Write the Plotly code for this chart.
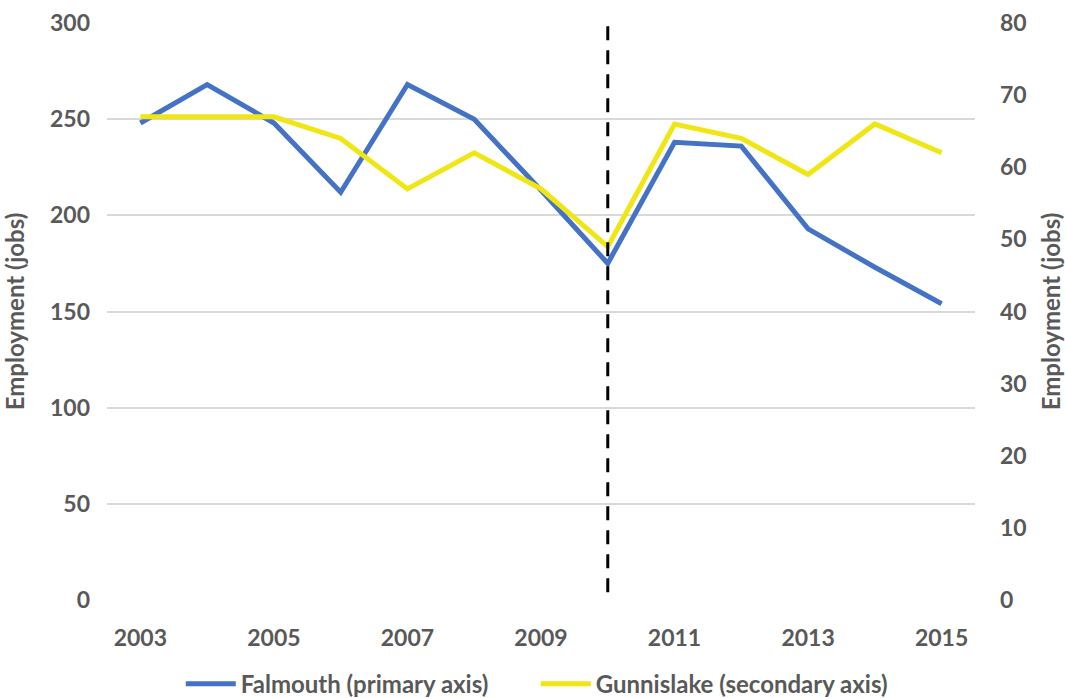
import plotly.graph_objects as go

# Annual employment figures
years = [2003, 2004, 2005, 2006, 2007, 2008, 2009, 2010, 2011, 2012, 2013, 2014, 2015]
falmouth = [248, 268, 248, 212, 268, 250, 213, 175, 238, 236, 193, 173, 154]
gunnislake = [67, 67, 67, 64, 57, 62, 57, 49, 66, 64, 59, 66, 62]
x_tick_years = [2003, 2005, 2007, 2009, 2011, 2013, 2015]
left_ticks = [0, 50, 100, 150, 200, 250, 300]
right_ticks = [0, 10, 20, 30, 40, 50, 60, 70, 80]
marker_year = 2010

FONT = "Lato"
GREY = "#595959"

fig = go.Figure()
fig.add_trace(go.Scatter(
    x=years, y=falmouth, mode="lines", name="Falmouth (primary axis)",
    line=dict(color="#4472C4", width=5), yaxis="y",
))
fig.add_trace(go.Scatter(
    x=years, y=gunnislake, mode="lines", name="Gunnislake (secondary axis)",
    line=dict(color="#F0E614", width=5), yaxis="y2",
))

# Vertical dashed marker at 2010
fig.add_shape(
    type="line", xref="x", yref="y", x0=marker_year, x1=marker_year, y0=4, y1=300,
    line=dict(color="black", width=3, dash="14px,10px"), layer="above",
)

tick_font = dict(family=FONT, size=23, color=GREY, weight="bold")
title_font = dict(family=FONT, size=24, color=GREY, weight="bold")

fig.update_layout(
    width=1065, height=698,
    margin=dict(l=107, r=90, t=23, b=98, autoexpand=False),
    paper_bgcolor="white", plot_bgcolor="white",
    showlegend=True,
    legend=dict(
        orientation="h", x=0.085, xanchor="left",
        yref="container", y=0.02, yanchor="middle",
        font=dict(family=FONT, size=24, color=GREY, weight="bold"),
        itemwidth=50, tracegroupgap=0, entrywidth=290,
    ),
    xaxis=dict(
        range=[2002.5, 2015.5], tickvals=x_tick_years,
        ticktext=[str(v) for v in x_tick_years],
        showgrid=False, zeroline=False, showline=False,
        tickfont=tick_font, ticks="", ticklabelstandoff=22,
        automargin=False,
    ),
    yaxis=dict(
        range=[0, 300], tickvals=left_ticks,
        showgrid=True, gridcolor="#D9D9D9", gridwidth=1.5,
        zeroline=False, showline=False, ticks="",
        tickfont=tick_font, ticklabelstandoff=16, automargin=False,
        title=dict(text="Employment (jobs)", font=title_font, standoff=18),
    ),
    yaxis2=dict(
        range=[0, 80], tickvals=right_ticks, overlaying="y", side="right",
        showgrid=False, zeroline=False, showline=False, ticks="",
        tickfont=tick_font, ticklabelstandoff=24, automargin=False,
        title=dict(text="Employment (jobs)", font=title_font, standoff=18),
    ),
)

fig.write_html("out.html")
